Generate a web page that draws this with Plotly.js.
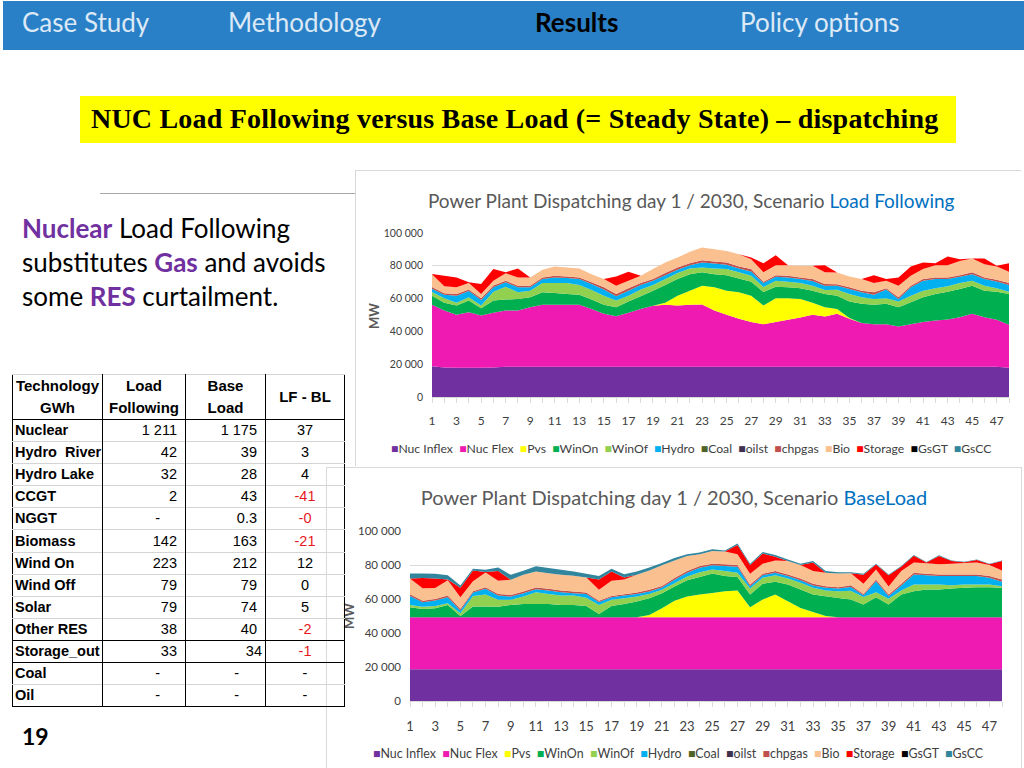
<!DOCTYPE html>
<html>
<head>
<meta charset="utf-8">
<script src="https://cdn.plot.ly/plotly-3.0.1.min.js"></script>
<style>
  body { margin:0; width:1024px; height:768px; position:relative; overflow:hidden; background:#fff; font-family: Lato, "Noto Sans", sans-serif; }
  .abs { position:absolute; }
  #nav { left:3px; top:1px; width:1021px; height:49px; background:#2A80C6; }
  .navt { top:6px; font-size:26px; color:#DCE9F6; white-space:nowrap; }
  #ybox { left:80px; top:96px; width:876px; height:47px; background:#FFFF00; }
  #ybox span { position:absolute; left:11px; top:7px; font-family:"Liberation Serif", serif; font-weight:bold; font-size:28px; color:#000; white-space:nowrap; letter-spacing:0.2px; }
  #ltext { left:22px; top:211px; font-size:26px; line-height:34px; color:#000; }
  #ltext b { color:#7030A0; }
  #tbl { left:12px; top:374px; z-index:3; }
  table { border-collapse:collapse; font-family:"Liberation Sans", Arial, sans-serif; font-size:14.5px; background:transparent; border:1.5px solid #000; }
  td { padding:0; height:21.1px; border-top:1px solid #d4d4d4; white-space:nowrap; line-height:15px; }
  td.c1 { font-weight:bold; padding-left:2px; border-right:1px solid #000; }
  td.c2 { text-align:right; padding-right:8px; border-right:1px solid #000; }
  td.c3 { text-align:right; padding-right:8px; border-right:1px solid #000; }
  td.c4 { text-align:center; }
  tr.hd td { font-weight:bold; text-align:center; height:44px; font-size:15px; line-height:22px; border-bottom:1.5px solid #000; padding:0; }
  tr.blk td { border-top:1.5px solid #000; }
  .neg { color:#E8191E; }
  #chartTop { left:355px; top:170px; width:665px; height:295px; border-left:1px solid #d9d9d9; border-top:1px solid #d9d9d9; }
  #chartBot { left:326px; top:467px; width:694px; height:301px; border-left:1px solid #d9d9d9; border-top:1px solid #d9d9d9; border-right:1px solid #d9d9d9; }
</style>
</head>
<body>
<div id="nav" class="abs"></div>
<div class="abs navt" style="left:22px;">Case Study</div>
<div class="abs navt" style="left:228px;">Methodology</div>
<div class="abs navt" style="left:535px; color:#000; font-weight:bold;">Results</div>
<div class="abs navt" style="left:740px;">Policy options</div>

<div id="ybox" class="abs"><span>NUC Load Following versus Base Load (= Steady State) – dispatching</span></div>
<div class="abs" style="left:100px; top:193px; width:255px; height:1px; background:#A6A6A6;"></div>

<div id="ltext" class="abs"><b>Nuclear</b> Load Following<br>substitutes <b>Gas</b> and avoids<br>some <b>RES</b> curtailment.</div>

<div id="chartTop" class="abs"></div>
<div id="chartBot" class="abs"></div>
<div id="tbl" class="abs"></div>

<div class="abs" style="left:22px; top:722px; font-size:23px; font-weight:bold; color:#000;">19</div>

<script>
// ---------- Chart data (MW) ----------
const hours = [1,2,3,4,5,6,7,8,9,10,11,12,13,14,15,16,17,18,19,20,21,22,23,24,25,26,27,28,29,30,31,32,33,34,35,36,37,38,39,40,41,42,43,44,45,46,47,48];
const xTickVals = [1,3,5,7,9,11,13,15,17,19,21,23,25,27,29,31,33,35,37,39,41,43,45,47];
const yTickVals = [0,20000,40000,60000,80000,100000];
const yTickText = ['0','20 000','40 000','60 000','80 000','100 000'];

const seriesNames = ['Nuc Inflex','Nuc Flex','Pvs','WinOn','WinOf','Hydro','Coal','oilst','chpgas','Bio','Storage','GsGT','GsCC'];
const seriesColors = ['#7030A0','#EE1AB2','#FFFF00','#00B050','#92D050','#00B0F0','#4F6228','#403151','#C0504D','#FAC090','#FF0000','#000000','#31859C'];

// Scenario Load Following
const LF_nucInflex = [18800,18000,17800,17800,17800,18000,18400,18400,18400,18400,18400,18400,18400,18400,18400,18400,18400,18400,18400,18400,18400,18400,18400,18400,18400,18400,18400,18400,18400,18400,18400,18400,18400,18400,18400,18400,18400,18400,18400,18400,18400,18400,18400,18400,18400,18400,18400,17800];
const LF_nucFlex = [37400,34700,32300,33900,31900,33300,34300,34300,36300,37800,37800,37800,37800,35300,32300,30900,32900,35300,37200,37800,37400,37800,38000,34300,31700,29300,27300,26000,27300,28700,30100,31700,30700,32300,29300,26700,26000,25900,24600,25900,27300,28300,28900,30300,32300,30300,28700,26200];
const LF_pvs = [0,0,0,0,0,0,0,0,0,0,0,0,0,0,0,0,0,0,0,1200,6000,8600,11500,14200,14700,16100,16100,11400,14500,13100,11300,7300,5600,3000,400,0,0,0,0,0,0,0,0,0,0,0,0,0];
const LF_winOn = [5600,4700,5700,7100,4400,7500,6700,7100,6100,7600,7200,6600,6200,5700,5500,5400,6900,7700,9200,10900,10100,10100,8100,8000,9500,8500,8500,8200,7100,6700,6500,7400,8100,8100,10100,11700,11800,12500,11700,13500,15100,16100,16900,17200,17200,16100,17100,18800];
const LF_winOf = [2200,2800,1600,2000,1700,5400,7900,4000,4000,5700,6100,6700,5900,5900,5600,4100,3600,4100,3500,3600,3700,3500,3000,3500,3700,3700,3600,3000,3600,3400,3200,3100,2500,3600,4600,4000,3600,3400,3500,4000,4000,3500,3300,3600,3000,3100,2100,1400];
const LF_hydro = [2000,2200,4400,3800,3400,2700,2600,3100,2100,2400,3400,3000,3600,3600,3700,2600,3000,2800,2600,2400,2000,2000,3000,3000,2600,2400,2700,2500,2400,2600,2400,2800,2600,2400,3100,3000,2600,5300,1600,5100,6100,5600,4400,3800,4000,4000,4200,4100];
const LF_coal = [0,0,0,0,0,0,0,0,0,0,0,0,0,0,0,0,0,0,0,0,0,0,0,0,0,0,0,0,0,0,0,0,0,0,0,0,0,0,0,0,0,0,0,0,0,0,0,0];
const LF_oilst = [0,0,0,0,0,0,0,0,0,0,0,0,0,0,0,0,0,0,0,0,0,0,0,0,0,0,0,0,0,0,0,0,0,0,0,0,0,0,0,0,0,0,0,0,0,0,0,0];
const LF_chpgas = [1000,800,1000,900,1000,1100,1000,1000,1000,1000,1000,1000,1000,1000,1400,1400,1500,1200,1000,1300,1400,1200,1400,1200,1400,1200,1400,800,1000,1000,1000,1200,1000,1000,1000,1000,1400,800,1000,1000,1000,1000,1000,1000,1100,1000,1000,1200];
const LF_bio = [7800,4300,4100,4000,2600,2900,4500,5000,5000,4700,5700,5500,5500,5000,5000,5100,4600,4400,6100,6400,6000,6900,7700,7500,7100,7500,6000,5700,6100,6500,7100,8100,7100,7100,6600,7100,5700,4600,7100,6000,6100,7500,7500,8700,8400,8100,8100,6900];
const LF_storage = [200,6500,6000,400,6100,7100,600,5500,0,0,0,0,0,0,0,5600,5500,0,0,0,0,0,0,0,0,0,1000,5600,6100,0,0,0,4400,0,0,0,4800,1000,5000,5700,4000,1200,5300,1000,0,3400,400,5200];
const LF_gsgt = [0,0,0,0,0,0,0,0,0,0,0,0,0,0,0,0,0,0,0,0,0,0,0,0,0,0,0,0,0,0,0,0,0,0,0,0,0,0,0,0,0,0,0,0,0,0,0,0];
const LF_gscc = [0,0,0,0,0,0,0,0,0,0,0,0,0,0,0,0,0,0,0,0,0,0,0,0,0,0,0,0,0,0,0,0,0,0,0,0,0,0,0,0,0,0,0,0,0,0,0,0];

// Scenario BaseLoad
const BL_nucInflex = [18700,18700,18700,18700,18700,18700,18700,18700,18700,18700,18700,18700,18700,18700,18700,18700,18700,18700,18700,18700,18700,18700,18700,18700,18700,18700,18700,18700,18700,18700,18700,18700,18700,18700,18700,18700,18700,18700,18700,18700,18700,18700,18700,18700,18700,18700,18700,18700];
const BL_nucFlex = [30500,30500,30500,30500,30500,30500,30500,30500,30500,30500,30500,30500,30500,30500,30500,30500,30500,30500,30500,30500,30500,30500,30500,30500,30500,30500,30500,30500,30500,30500,30500,30500,30500,30500,30500,30500,30500,30500,30500,30500,30500,30500,30500,30500,30500,30500,30500,30500];
const BL_pvs = [0,0,0,0,0,0,0,0,0,0,0,0,0,0,0,0,0,0,0,1400,5300,9700,12200,13400,14400,15400,15800,5900,10500,13400,9500,5500,3200,800,0,0,0,0,0,0,0,0,0,0,0,0,0,0];
const BL_winOn = [6000,4900,5300,7200,800,6400,6400,6300,7300,7900,7900,7900,7300,7300,6700,2000,6700,7900,9300,9800,8900,8400,9600,10300,11400,8900,7900,7500,9200,7500,9800,10900,10200,11600,11400,10500,7500,11800,7500,13400,15400,16400,16400,17000,17400,17700,17700,17400];
const BL_winOf = [1300,1400,1400,1100,1600,6100,7100,4000,3000,4300,6900,5900,5500,5500,4900,5200,3600,3300,2900,2600,2000,2000,2300,2900,2400,2900,2500,3600,3600,3800,3600,3900,4000,3400,4000,5100,4500,3000,3500,2400,3900,2900,2900,1900,1900,1600,1600,900];
const BL_hydro = [5300,2600,3200,3500,1600,2100,3300,2500,1900,2000,1800,2000,2000,1400,2200,1800,1500,1600,1600,1400,1400,2000,2200,2600,2400,3000,3600,1300,1500,1500,1400,1600,1300,1600,1600,2300,1000,6500,1600,2900,5900,5400,5000,5400,5000,5000,4000,2600];
const BL_coal = [0,0,0,0,0,0,0,0,0,0,0,0,0,0,0,0,0,0,0,0,0,0,0,0,0,0,0,0,0,0,0,0,0,0,0,0,0,0,0,0,0,0,0,0,0,0,0,0];
const BL_oilst = [0,0,0,0,0,0,0,0,0,0,0,0,0,0,0,0,0,0,0,0,0,0,0,0,0,0,0,0,0,0,0,0,0,0,0,0,0,0,0,0,0,0,0,0,0,0,0,0];
const BL_chpgas = [1000,800,900,1000,1000,800,900,900,1000,1000,1000,1000,1000,1000,800,800,800,800,800,1000,900,1000,1000,1000,1000,1000,1000,1000,800,1000,900,1000,1000,900,700,1000,800,1000,800,1000,1000,900,900,900,900,900,1000,1400];
const BL_bio = [9200,7400,6500,9000,6900,5900,8700,7900,8900,9800,9400,9200,9200,9300,8900,6400,8900,8700,10400,11400,12100,10400,8800,6900,7500,7500,6300,6300,6000,6300,7900,7900,7500,7900,8100,7100,5900,5900,4700,7500,6000,6200,6000,6400,6800,7000,6500,5300];
const BL_storage = [0,6000,5500,500,5500,6300,300,5700,0,0,0,0,0,0,0,6100,5500,1200,0,0,0,0,0,0,0,0,5500,5200,5900,2200,0,0,5100,0,0,0,5300,2900,6600,2600,4100,400,4900,1600,400,1600,500,5600];
const BL_gsgt = [0,0,0,0,0,0,0,0,0,0,0,0,0,0,0,0,0,0,0,0,0,0,0,0,0,0,0,0,0,0,0,0,0,0,0,0,0,0,0,0,0,0,0,0,0,0,0,0];
const BL_gscc = [3000,2700,2800,2500,1400,1000,1300,2100,2900,2400,3000,3000,3000,2500,2100,2000,1600,1900,2000,1800,1400,1400,1000,1000,900,700,800,800,1000,1000,1000,800,800,1000,800,600,600,500,500,400,400,300,400,300,300,300,300,300];

// ---------- Table data ----------
const tblHeaders = ['Technology<br>GWh','Load<br>Following','Base<br>Load','LF - BL'];
const tblTech = ['Nuclear','Hydro&nbsp; River','Hydro Lake','CCGT','NGGT','Biomass','Wind On','Wind Off','Solar','Other RES','Storage_out','Coal','Oil'];
const tblLF = ['1 211','42','32','2','-','142','223','79','79','38','33','-','-'];
const tblBL = ['1 175','39','28','43','0.3','163','212','79','74','40','34','-','-'];
const tblDiff = ['37','3','4','-41','-0','-21','12','0','5','-2','-1','-','-'];

// ---------- Build table ----------
(function(){
  let h = '<table><colgroup><col style="width:90px"><col style="width:83px"><col style="width:80px"><col style="width:79px"></colgroup>';
  h += '<tr class="hd">' + tblHeaders.map((t,i)=>'<td style="'+(i<3?'border-right:1px solid #000;':'')+'">'+t+'</td>').join('') + '</tr>';
  for (let i=0;i<tblTech.length;i++){
    const cls = (tblTech[i]==='Storage_out' || tblTech[i]==='Coal') ? ' class="blk"' : '';
    const dashLF = tblLF[i]==='-' ? ' style="padding-right:25px"' : '';
    const dashBL = tblBL[i]==='-' ? ' style="padding-right:26px"' : (tblTech[i]==='Storage_out' ? ' style="padding-right:3px"' : '');
    const neg = (tblDiff[i].length>1 && tblDiff[i][0]==='-') ? ' neg' : '';
    h += '<tr'+cls+'><td class="c1">'+tblTech[i]+'</td><td class="c2"'+dashLF+'>'+tblLF[i]+'</td><td class="c3"'+dashBL+'>'+tblBL[i]+'</td><td class="c4'+neg+'">'+tblDiff[i]+'</td></tr>';
  }
  h += '</table>';
  document.getElementById('tbl').innerHTML = h;
})();

// ---------- Charts ----------
const chartFont = 'Lato, "Open Sans", sans-serif';

function makeTraces(arrs){
  return arrs.map((ys,i)=>({
    type:'scatter', x:hours, y:ys, name:seriesNames[i], stackgroup:'one',
    mode:'none', fillcolor:seriesColors[i], line:{width:0}, showlegend:false,
    hoverinfo:'skip'
  }));
}

function legendText(){
  return seriesNames.map((n,i)=>'<span style="color:'+seriesColors[i]+'">■</span>'+n).join(' &nbsp;');
}

function makeLayout(o){
  return {
    width:o.w, height:o.h, paper_bgcolor:'rgba(0,0,0,0)', plot_bgcolor:'rgba(0,0,0,0)',
    margin:{l:o.l, r:o.r, t:o.t, b:o.b},
    font:{family:chartFont, color:'#595959'},
    title:{text:o.title, font:{family:chartFont, size:o.tsize, color:'#595959'}, xref:'container', x:o.tx, xanchor:'center', yref:'container', y:o.ty, yanchor:'middle'},
    showlegend:false,
    xaxis:{range:[1,48], tickvals:xTickVals, ticks:'outside', ticklen:5, tickcolor:'#D9D9D9', showgrid:false, zeroline:false,
           showline:true, linecolor:'#D9D9D9', tickfont:{size:o.xfs, color:'#404040', family:chartFont}, ticklabelstandoff:o.xstand, fixedrange:true, minor:{dtick:1, ticks:'outside', ticklen:5, tickcolor:'#D9D9D9', showgrid:false}},
    yaxis:{range:[0,100000], tickvals:yTickVals, ticktext:yTickText, showgrid:true, gridcolor:'#D9D9D9', gridwidth:1, zeroline:false,
           showline:false, tickfont:{size:o.yfs, color:'#404040', family:chartFont}, ticklabelstandoff:o.ystand, fixedrange:true},
    annotations:[
      {text:'<b>MW</b>', xref:'paper', yref:'paper', x:o.mwx, y:o.mwy, showarrow:false, textangle:-90, font:{size:13, color:'#595959', family:chartFont}, xanchor:'center', yanchor:'middle'},
      {text:legendText(), xref:'paper', yref:'paper', x:o.lgx, y:o.lgy, showarrow:false, font:{size:o.lfs, color:'#404040', family:chartFont}, xanchor:'center', yanchor:'middle'}
    ]
  };
}

Plotly.newPlot('chartTop',
  makeTraces([LF_nucInflex,LF_nucFlex,LF_pvs,LF_winOn,LF_winOf,LF_hydro,LF_coal,LF_oilst,LF_chpgas,LF_bio,LF_storage,LF_gsgt,LF_gscc]),
  makeLayout({w:665,h:295,l:76,r:12,t:62,b:69,
    title:'Power Plant Dispatching day 1 / 2030, Scenario <span style="color:#0070C0">Load Following</span>',
    tsize:19, tx:0.504, ty:0.898, xfs:12, yfs:10.5, xstand:8, ystand:8,
    mwx:-0.1005, mwy:0.494, lgx:(690-431)/577, lgy:-(447-396)/164, lfs:12.2}),
  {staticPlot:true});

Plotly.newPlot('chartBot',
  makeTraces([BL_nucInflex,BL_nucFlex,BL_pvs,BL_winOn,BL_winOf,BL_hydro,BL_coal,BL_oilst,BL_chpgas,BL_bio,BL_storage,BL_gsgt,BL_gscc]),
  makeLayout({w:694,h:301,l:83,r:19,t:63,b:68,
    title:'Power Plant Dispatching day 1 / 2030, Scenario <span style="color:#0070C0">BaseLoad</span>',
    tsize:20, tx:0.5, ty:0.9, xfs:13, yfs:11.5, xstand:8, ystand:8,
    mwx:-0.103, mwy:0.5, lgx:(677-409)/592, lgy:-(752-700)/170, lfs:12.4}),
  {staticPlot:true});
</script>
</body>
</html>
